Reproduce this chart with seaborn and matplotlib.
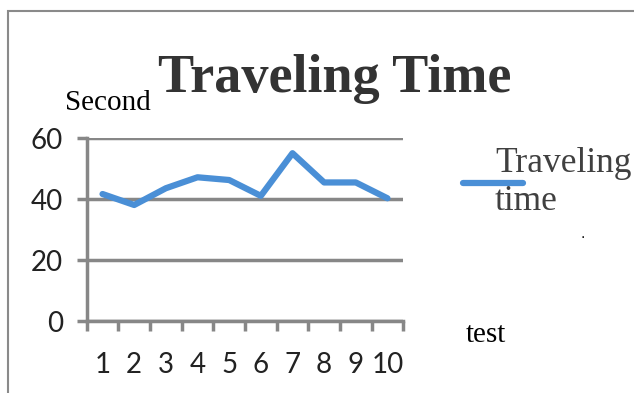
import matplotlib
matplotlib.use("Agg")
import matplotlib.pyplot as plt
import seaborn as sns
import pandas as pd
from matplotlib.patches import Rectangle

# Data.
tests = [1, 2, 3, 4, 5, 6, 7, 8, 9, 10]
seconds = [41.7, 38.1, 43.6, 47.2, 46.3, 41.1, 55.1, 45.5, 45.5, 40.3]
y_ticks = [0, 20, 40, 60]

df = pd.DataFrame({'test': tests, 'seconds': seconds})

sns.set_style('white')
grid_col = '#878787'
line_col = '#4a8fd6'
txt_col = '#404040'

W, H = 634, 393
fig = plt.figure(figsize=(W / 100, H / 100), dpi=100)
ax = fig.add_axes([86.7 / W, 1 - 321 / H, (403.3 - 86.7) / W, (321 - 138.3) / H])

sns.lineplot(data=df, x='test', y='seconds', ax=ax, color=line_col, lw=4.5,
             label='Traveling\ntime', legend=False)

ax.set_xlim(0.5, 10.5)
ax.set_ylim(0, 60)
ax.set_yticks(y_ticks)
ax.set_xticks(tests)
ax.set_xticks([t + 0.5 for t in [0] + tests], minor=True)
ax.yaxis.grid(True, color=grid_col, lw=2.5)
ax.set_axisbelow(True)

for s in ['top', 'right']:
    ax.spines[s].set_visible(False)
for s in ['left', 'bottom']:
    ax.spines[s].set_color(grid_col)
    ax.spines[s].set_linewidth(2.5)

ax.tick_params(axis='y', direction='out', length=7, width=2.5, color=grid_col,
               pad=10, labelsize=20, labelcolor='#222222', left=True)
ax.tick_params(axis='x', which='major', length=0, pad=22, labelsize=20, labelcolor='#222222')
ax.tick_params(axis='x', which='minor', direction='out', length=7, width=2.5,
               color=grid_col, bottom=True)
for lab in ax.get_xticklabels() + ax.get_yticklabels():
    lab.set_family('Lato')
ax.set_xlabel('')
ax.set_ylabel('')

# Legend on the right.
h, l = ax.get_legend_handles_labels()
leg = fig.legend(h, l, loc='center left', bbox_to_anchor=(463 / W, 1 - 183 / H),
                 frameon=False, borderpad=0, borderaxespad=0, handlelength=1.7,
                 handletextpad=-0.8, prop={'family': 'Liberation Serif', 'size': 25.5})
for t in leg.get_texts():
    t.set_color(txt_col)

# Titles and axis names.
fig.text(335 / W, 1 - 92 / H, 'Traveling Time', ha='center', va='baseline',
         family='Liberation Serif', weight='bold', size=39, color='#333333')
fig.text(65 / W, 1 - 110 / H, 'Second', ha='left', va='baseline',
         family='Liberation Serif', size=21, color='black')
fig.text(466 / W, 1 - 342 / H, 'test', ha='left', va='baseline',
         family='Liberation Serif', size=21, color='black')
fig.text(583 / W, 1 - 238 / H, '.', ha='center', va='baseline', size=10, color='black')

# Chart frame (only top and left edges fall inside the picture).
fig.patches.append(Rectangle((8 / W, -0.1), 1.2, 1 - 11 / H + 0.1, transform=fig.transFigure,
                             fill=False, edgecolor='#8a8a8a', lw=1.5))

fig.savefig('out.png', dpi=100)
